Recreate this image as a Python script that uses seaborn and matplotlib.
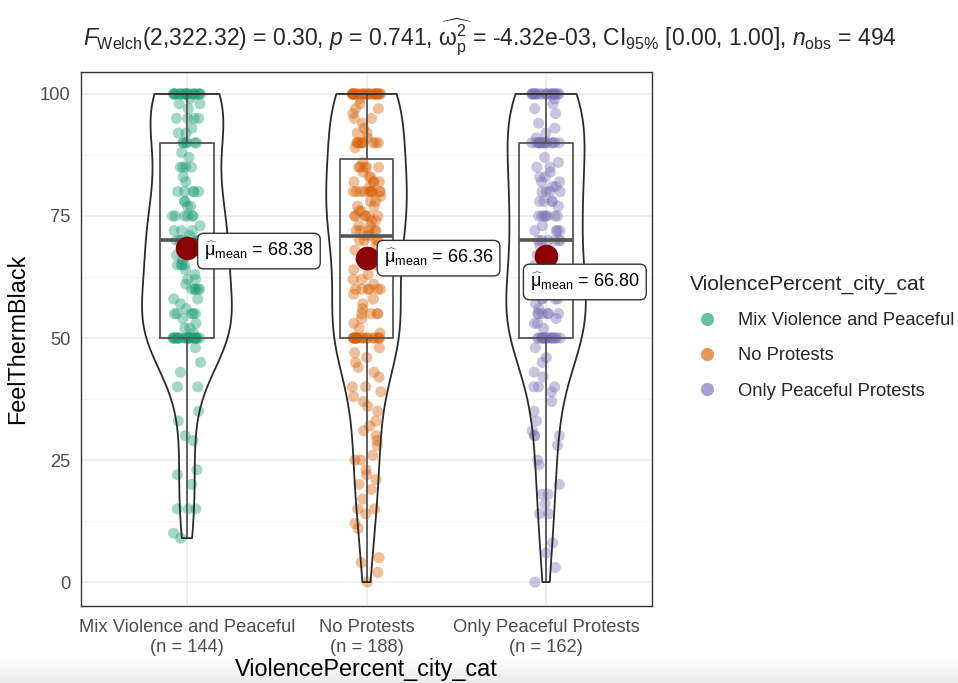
import numpy as np
import pandas as pd
import matplotlib
matplotlib.use("Agg")
import matplotlib.pyplot as plt
import seaborn as sns
from matplotlib.lines import Line2D
from matplotlib.colors import LinearSegmentedColormap

# ---- data -------------------------------------------------------------
categories = ["Mix Violence and Peaceful", "No Protests", "Only Peaceful Protests"]

# FeelThermBlack scores (value -> number of respondents)
mix_values = [100, 99, 98, 97, 95, 93, 92, 90, 88, 87, 85, 83, 82, 80, 78, 77, 75, 73,
              72, 71, 70, 69, 68, 67, 66, 65, 64, 63, 62, 61, 60, 58, 57, 56, 55, 54,
              53, 52, 51, 50, 48, 45, 43, 40, 35, 33, 30, 29, 23, 22, 20, 15, 10, 9]
mix_counts = [20, 1, 2, 1, 4, 1, 2, 6, 1, 1, 4, 1, 1, 5, 2, 2, 6, 1,
              3, 1, 8, 1, 2, 1, 1, 4, 1, 1, 2, 1, 5, 2, 1, 1, 5, 1,
              1, 2, 1, 21, 1, 1, 1, 2, 1, 1, 1, 1, 1, 1, 1, 3, 1, 1]

none_values = [100, 99, 98, 97, 96, 95, 94, 93, 92, 91, 90, 89, 86, 85, 84, 83, 82, 81,
               80, 79, 78, 77, 76, 75, 74, 73, 72, 71, 70, 69, 68, 67, 66, 65, 64, 63,
               62, 61, 60, 59, 58, 57, 56, 55, 54, 53, 52, 51, 50, 48, 47, 46, 45, 44,
               43, 42, 40, 39, 38, 37, 36, 35, 33, 32, 31, 30, 29, 28, 26, 25, 23, 22,
               21, 20, 19, 17, 15, 14, 12, 11, 5, 4, 2, 0]
none_counts = [25, 1, 1, 2, 1, 2, 1, 1, 2, 1, 9, 1, 1, 5, 1, 2, 4, 1,
               10, 1, 2, 2, 2, 6, 2, 2, 5, 2, 4, 1, 1, 1, 1, 4, 1, 1,
               2, 1, 6, 1, 1, 1, 1, 4, 1, 1, 1, 1, 20, 1, 1, 1, 1, 1,
               1, 1, 2, 1, 1, 1, 1, 1, 1, 1, 1, 1, 1, 1, 1, 2, 1, 1,
               1, 1, 1, 1, 2, 1, 1, 1, 1, 1, 1, 1]

peace_values = [100, 99, 98, 97, 96, 94, 93, 92, 91, 90, 87, 86, 85, 84, 83, 82, 81, 80,
                78, 77, 75, 73, 72, 70, 69, 67, 66, 65, 64, 63, 62, 61, 60, 59, 58, 57,
                56, 55, 54, 53, 52, 50, 48, 46, 45, 43, 42, 40, 39, 37, 35, 33, 31, 30,
                28, 25, 24, 20, 18, 16, 14, 8, 6, 3, 0]
peace_counts = [21, 1, 1, 1, 1, 1, 1, 1, 1, 15, 1, 1, 2, 1, 2, 2, 2, 4,
                4, 1, 7, 1, 4, 6, 1, 1, 1, 3, 1, 1, 2, 1, 7, 1, 4, 1,
                1, 6, 1, 2, 1, 16, 1, 1, 1, 1, 1, 3, 1, 1, 1, 1, 1, 3,
                1, 1, 1, 1, 2, 1, 2, 1, 1, 1, 1]

group_means = [68.38, 66.36, 66.80]

title_text = (r"$F_{\mathrm{Welch}}$(2,322.32) = 0.30, $p$ = 0.741, "
              r"$\widehat{\mathrm{\omega}_{\mathrm{p}}^{2}}$ = -4.32e-03, "
              r"CI$_{95\%}$ [0.00, 1.00], $n_{\mathrm{obs}}$ = 494")

palette = ["#1B9E77", "#D95F02", "#7570B3"]

# ---- long table -------------------------------------------------------
frames = []
for cat, vals, cnts in zip(categories,
                           [mix_values, none_values, peace_values],
                           [mix_counts, none_counts, peace_counts]):
    frames.append(pd.DataFrame({"group": cat, "score": np.repeat(vals, cnts)}))
df = pd.concat(frames, ignore_index=True)
group_n = df.groupby("group")["score"].size().reindex(categories).tolist()
means_df = pd.DataFrame({"group": categories, "mean": group_means})

# ---- style ------------------------------------------------------------
sns.set_theme(style="white")
plt.rcParams["font.family"] = ["Liberation Sans", "DejaVu Sans"]
plt.rcParams["mathtext.fontset"] = "custom"
plt.rcParams["mathtext.rm"] = "Liberation Sans"
plt.rcParams["mathtext.it"] = "Liberation Sans:italic"
plt.rcParams["mathtext.bf"] = "Liberation Sans:bold"

fig = plt.figure(figsize=(9.58, 6.83), dpi=100)

# soft grey shading along the lower edge
band = fig.add_axes([0, 0, 1, 26 / 683], zorder=-5)
shade = LinearSegmentedColormap.from_list("shade", ["#ebebeb", "#ffffff"])
band.imshow(np.linspace(0, 1, 64).reshape(-1, 1), aspect="auto", cmap=shade,
            origin="lower", extent=[0, 1, 0, 1])
band.axis("off")

ax = fig.add_axes([81 / 958, 1 - 606 / 683, (652 - 81) / 958, (606 - 72) / 683])
ax.set_facecolor("white")

np.random.seed(7)
sns.stripplot(data=df, x="group", y="score", hue="group", order=categories,
              hue_order=categories, palette=palette, jitter=0.08, size=8,
              alpha=0.4, linewidth=0, legend=False, ax=ax, zorder=2)
sns.boxplot(data=df, x="group", y="score", order=categories, width=0.3,
            fill=False, color="#555555", showfliers=False, showcaps=False,
            linewidth=1.3, medianprops={"linewidth": 2.6}, ax=ax, zorder=3)
sns.violinplot(data=df, x="group", y="score", order=categories, width=0.5,
               fill=False, color="#2b2b2b", cut=0, inner=None,
               density_norm="area", linewidth=1.3, ax=ax, zorder=4)
sns.pointplot(data=means_df, x="group", y="mean", order=categories,
              color="#8B0000", markers="o", linestyle="none", errorbar=None,
              markersize=17, markeredgewidth=0, ax=ax, zorder=5)

# mean labels
label_offsets = [(12.5, -2.0), (12.5, 0.0), (-11.5, -18.7)]
for i, (m, (dx, dy)) in enumerate(zip(group_means, label_offsets)):
    ax.annotate(rf"$\widehat{{\mathrm{{\mu}}}}_{{\mathrm{{mean}}}}$ = {m:.2f}",
                xy=(i, m), xytext=(dx, dy), textcoords="offset points",
                ha="left", va="center", fontsize=13, color="black",
                bbox=dict(boxstyle="round,pad=0.37,rounding_size=0.35",
                          fc="white", ec="#333333", lw=1.0),
                zorder=6)

# axes
ax.set_xlim(-0.59, 2.59)
ax.set_ylim(-4.9, 104.5)
ax.set_yticks([0, 25, 50, 75, 100])
ax.set_yticks([12.5, 37.5, 62.5, 87.5], minor=True)
ax.set_xticks(range(len(categories)))
ax.set_xticklabels([f"{c}\n(n = {n})" for c, n in zip(categories, group_n)],
                   linespacing=1.3)
ax.grid(which="major", color="#EBEBEB", linewidth=1.1)
ax.grid(which="minor", axis="y", color="#F3F3F3", linewidth=0.7)
ax.set_axisbelow(True)
ax.tick_params(axis="both", which="major", direction="out", length=4,
               width=1, color="#333333", labelcolor="#4D4D4D", labelsize=13.2)
ax.tick_params(axis="x", which="major", pad=5)
ax.tick_params(axis="y", which="minor", length=0)
for s in ax.spines.values():
    s.set_visible(True)
    s.set_color("#333333")
    s.set_linewidth(1.0)
ax.set_xlabel("ViolencePercent_city_cat", fontsize=16.8, color="black", labelpad=1)
ax.set_ylabel("FeelThermBlack", fontsize=16.8, color="black", labelpad=8)

fig.text(83 / 958, 1 - 37 / 683, title_text, fontsize=16.5, ha="left", va="center")

handles = [Line2D([], [], marker="o", linestyle="none", markersize=9.5,
                  markerfacecolor=c, markeredgewidth=0, alpha=0.65)
           for c in palette]
fig.legend(handles, categories, title="ViolencePercent_city_cat",
           loc="upper left", bbox_to_anchor=(0.713, 0.609), frameon=False,
           fontsize=13.2, title_fontsize=15.1, labelspacing=1.0,
           handlelength=1.8, handletextpad=0.82, borderaxespad=0,
           alignment="left")

fig.savefig("out.png", dpi=100)
